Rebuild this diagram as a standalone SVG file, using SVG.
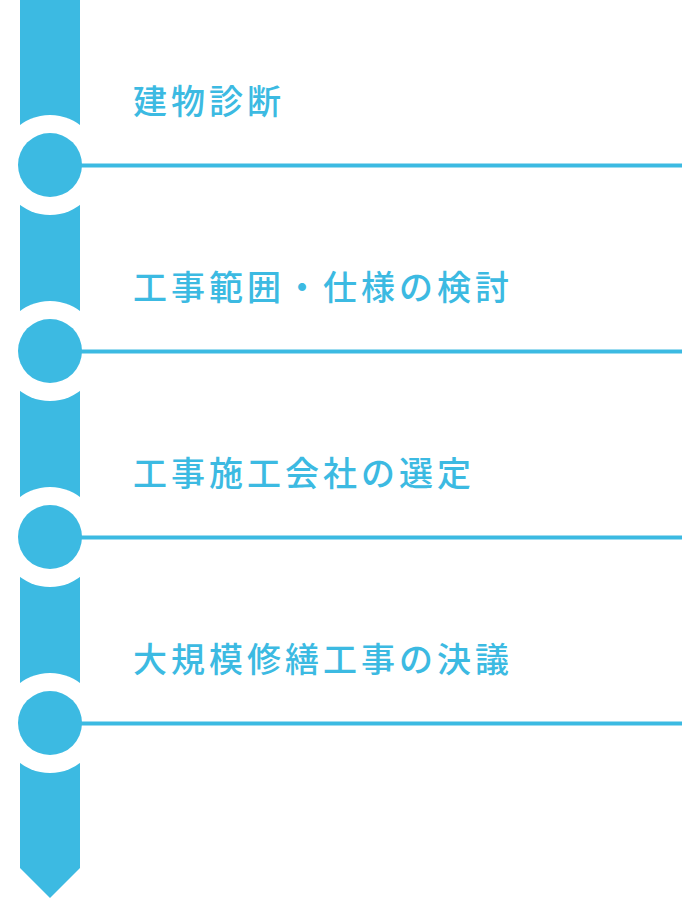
<svg xmlns="http://www.w3.org/2000/svg" width="683" height="898" viewBox="0 0 683 898">
<style>
.bar{fill:#3cbae2}
.ring{fill:#ffffff}
.dot{fill:#3cbae2}
.line{stroke:#3cbae2;stroke-width:4;fill:none}
.lbl{font-family:"Noto Sans CJK JP","Noto Sans",sans-serif;font-size:34px;font-weight:500;fill:#3cbae2;letter-spacing:4px}
</style>
<g id="timeline-bar">
<polygon class="bar" points="20,0 80,0 80,868 50,898 20,868"/>
</g>
<g id="step1">
<circle class="ring" cx="50" cy="165" r="50"/>
<circle class="dot" cx="50" cy="165" r="32"/>
<text class="lbl" x="133" y="114">建物診断</text>
</g>
<g id="step2">
<circle class="ring" cx="50" cy="351" r="50"/>
<circle class="dot" cx="50" cy="351" r="32"/>
<text class="lbl" x="133" y="300">工事範囲・仕様の検討</text>
</g>
<g id="step3">
<circle class="ring" cx="50" cy="537" r="50"/>
<circle class="dot" cx="50" cy="537" r="32"/>
<text class="lbl" x="133" y="486">工事施工会社の選定</text>
</g>
<g id="step4">
<circle class="ring" cx="50" cy="723" r="50"/>
<circle class="dot" cx="50" cy="723" r="32"/>
<text class="lbl" x="133" y="672">大規模修繕工事の決議</text>
</g>
<g id="connectors">
<line class="line" x1="80" y1="165.5" x2="682" y2="165.5"/>
<line class="line" x1="80" y1="351.5" x2="682" y2="351.5"/>
<line class="line" x1="80" y1="537.5" x2="682" y2="537.5"/>
<line class="line" x1="80" y1="723.5" x2="682" y2="723.5"/>
</g>
</svg>
